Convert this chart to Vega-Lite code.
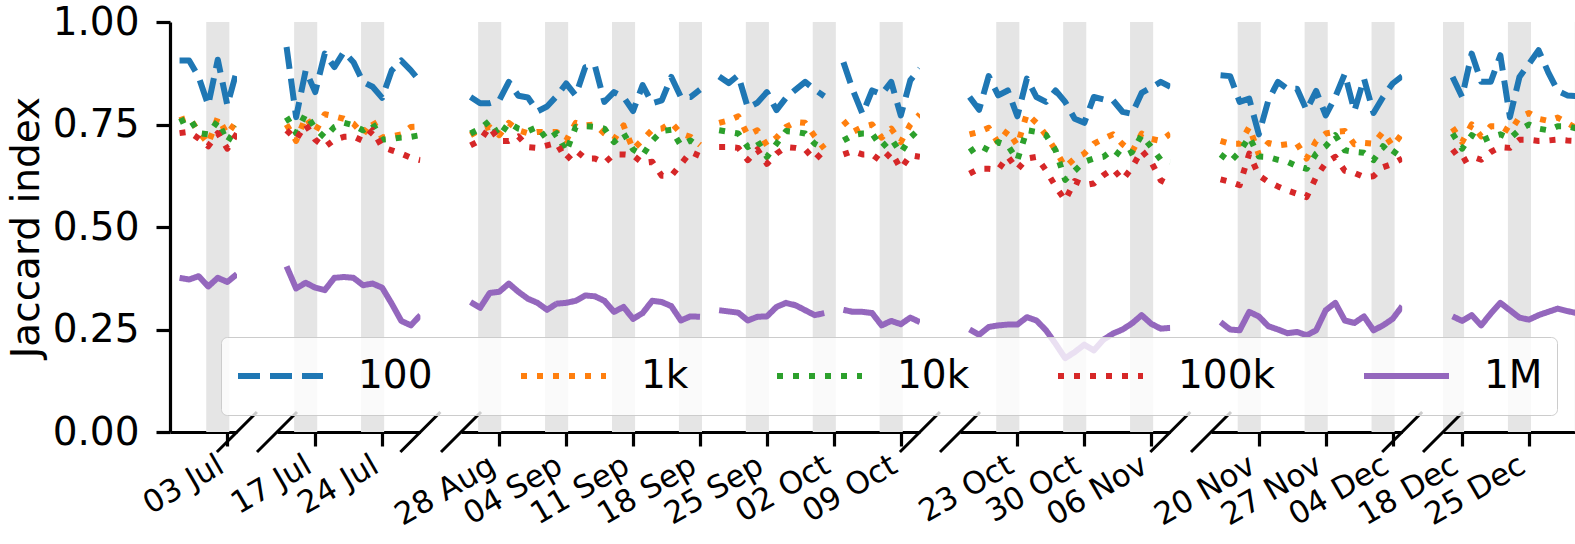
{
  "$schema": "https://vega.github.io/schema/vega-lite/v6.json",
  "background": "white",
  "padding": {"left": 7, "top": 3, "right": 0, "bottom": 0},
  "bounds": "flush",
  "spacing": 40,
  "config": {
    "font": "DejaVu Sans",
    "view": {"stroke": null},
    "axis": {"grid": false, "domainColor": "black", "domainWidth": 3.2, "tickColor": "black", "tickWidth": 3.2, "tickSize": 14, "labelColor": "black", "titleColor": "black", "labelFont": "DejaVu Sans", "titleFont": "DejaVu Sans"}
  },
  "datasets": {
    "main": [
      {"d":"2017-06-28","p":1,"100":0.906,"1k":0.760,"10k":0.756,"100k":0.729,"1M":0.376},
      {"d":"2017-06-29","p":1,"100":0.906,"1k":0.768,"10k":0.767,"100k":0.732,"1M":0.372},
      {"d":"2017-06-30","p":1,"100":0.866,"1k":0.732,"10k":0.729,"100k":0.716,"1M":0.380},
      {"d":"2017-07-01","p":1,"100":0.797,"1k":0.703,"10k":0.726,"100k":0.697,"1M":0.355},
      {"d":"2017-07-02","p":1,"100":0.908,"1k":0.767,"10k":0.759,"100k":0.729,"1M":0.376},
      {"d":"2017-07-03","p":1,"100":0.797,"1k":0.726,"10k":0.707,"100k":0.691,"1M":0.366},
      {"d":"2017-07-04","p":1,"100":0.882,"1k":0.760,"10k":0.744,"100k":0.728,"1M":0.385},
      {"d":"2017-07-14","p":2,"100":0.939,"1k":0.750,"10k":0.768,"100k":0.736,"1M":0.404},
      {"d":"2017-07-15","p":2,"100":0.768,"1k":0.710,"10k":0.729,"100k":0.713,"1M":0.350},
      {"d":"2017-07-16","p":2,"100":0.882,"1k":0.768,"10k":0.776,"100k":0.750,"1M":0.364},
      {"d":"2017-07-17","p":2,"100":0.829,"1k":0.732,"10k":0.740,"100k":0.713,"1M":0.352},
      {"d":"2017-07-18","p":2,"100":0.923,"1k":0.775,"10k":0.718,"100k":0.695,"1M":0.346},
      {"d":"2017-07-19","p":2,"100":0.890,"1k":0.770,"10k":0.744,"100k":0.713,"1M":0.376},
      {"d":"2017-07-20","p":2,"100":0.927,"1k":0.764,"10k":0.754,"100k":0.720,"1M":0.378},
      {"d":"2017-07-21","p":2,"100":0.902,"1k":0.752,"10k":0.748,"100k":0.721,"1M":0.376},
      {"d":"2017-07-22","p":2,"100":0.854,"1k":0.726,"10k":0.736,"100k":0.710,"1M":0.358},
      {"d":"2017-07-23","p":2,"100":0.842,"1k":0.759,"10k":0.752,"100k":0.736,"1M":0.362},
      {"d":"2017-07-24","p":2,"100":0.815,"1k":0.718,"10k":0.713,"100k":0.695,"1M":0.352},
      {"d":"2017-07-25","p":2,"100":0.882,"1k":0.721,"10k":0.715,"100k":0.687,"1M":0.313},
      {"d":"2017-07-26","p":2,"100":0.906,"1k":0.726,"10k":0.718,"100k":0.679,"1M":0.271},
      {"d":"2017-07-27","p":2,"100":0.882,"1k":0.744,"10k":0.720,"100k":0.669,"1M":0.260},
      {"d":"2017-07-28","p":2,"100":0.854,"1k":0.745,"10k":0.724,"100k":0.663,"1M":0.285},
      {"d":"2017-08-25","p":3,"100":0.817,"1k":0.724,"10k":0.728,"100k":0.699,"1M":0.317},
      {"d":"2017-08-26","p":3,"100":0.802,"1k":0.737,"10k":0.740,"100k":0.711,"1M":0.303},
      {"d":"2017-08-27","p":3,"100":0.802,"1k":0.744,"10k":0.759,"100k":0.744,"1M":0.339},
      {"d":"2017-08-28","p":3,"100":0.809,"1k":0.724,"10k":0.721,"100k":0.710,"1M":0.342},
      {"d":"2017-08-29","p":3,"100":0.854,"1k":0.754,"10k":0.754,"100k":0.710,"1M":0.362},
      {"d":"2017-08-30","p":3,"100":0.820,"1k":0.736,"10k":0.740,"100k":0.721,"1M":0.342},
      {"d":"2017-08-31","p":3,"100":0.816,"1k":0.729,"10k":0.734,"100k":0.695,"1M":0.325},
      {"d":"2017-09-01","p":3,"100":0.782,"1k":0.732,"10k":0.744,"100k":0.693,"1M":0.315},
      {"d":"2017-09-02","p":3,"100":0.794,"1k":0.732,"10k":0.713,"100k":0.699,"1M":0.298},
      {"d":"2017-09-03","p":3,"100":0.819,"1k":0.732,"10k":0.729,"100k":0.705,"1M":0.313},
      {"d":"2017-09-04","p":3,"100":0.850,"1k":0.711,"10k":0.683,"100k":0.664,"1M":0.315},
      {"d":"2017-09-05","p":3,"100":0.821,"1k":0.754,"10k":0.744,"100k":0.687,"1M":0.320},
      {"d":"2017-09-06","p":3,"100":0.890,"1k":0.748,"10k":0.746,"100k":0.667,"1M":0.333},
      {"d":"2017-09-07","p":3,"100":0.894,"1k":0.750,"10k":0.744,"100k":0.667,"1M":0.331},
      {"d":"2017-09-08","p":3,"100":0.805,"1k":0.728,"10k":0.740,"100k":0.656,"1M":0.320},
      {"d":"2017-09-09","p":3,"100":0.829,"1k":0.713,"10k":0.707,"100k":0.677,"1M":0.293},
      {"d":"2017-09-10","p":3,"100":0.817,"1k":0.748,"10k":0.729,"100k":0.677,"1M":0.305},
      {"d":"2017-09-11","p":3,"100":0.783,"1k":0.689,"10k":0.689,"100k":0.675,"1M":0.276},
      {"d":"2017-09-12","p":3,"100":0.846,"1k":0.713,"10k":0.675,"100k":0.656,"1M":0.290},
      {"d":"2017-09-13","p":3,"100":0.802,"1k":0.737,"10k":0.710,"100k":0.659,"1M":0.320},
      {"d":"2017-09-14","p":3,"100":0.809,"1k":0.740,"10k":0.734,"100k":0.625,"1M":0.317},
      {"d":"2017-09-15","p":3,"100":0.866,"1k":0.754,"10k":0.737,"100k":0.625,"1M":0.307},
      {"d":"2017-09-16","p":3,"100":0.817,"1k":0.728,"10k":0.699,"100k":0.653,"1M":0.272},
      {"d":"2017-09-17","p":3,"100":0.817,"1k":0.720,"10k":0.711,"100k":0.683,"1M":0.282},
      {"d":"2017-09-18","p":3,"100":0.835,"1k":0.700,"10k":0.695,"100k":0.673,"1M":0.281},
      {"d":"2017-09-19","p":3,"100":null,"1k":null,"10k":null,"100k":null,"1M":null},
      {"d":"2017-09-20","p":3,"100":0.867,"1k":0.754,"10k":0.736,"100k":0.695,"1M":0.297},
      {"d":"2017-09-21","p":3,"100":0.851,"1k":0.760,"10k":0.732,"100k":0.695,"1M":0.294},
      {"d":"2017-09-22","p":3,"100":0.870,"1k":0.770,"10k":0.728,"100k":0.693,"1M":0.291},
      {"d":"2017-09-23","p":3,"100":0.791,"1k":0.724,"10k":0.695,"100k":0.663,"1M":0.272},
      {"d":"2017-09-24","p":3,"100":0.803,"1k":0.736,"10k":0.710,"100k":0.689,"1M":0.281},
      {"d":"2017-09-25","p":3,"100":0.829,"1k":0.699,"10k":0.671,"100k":0.654,"1M":0.282},
      {"d":"2017-09-26","p":3,"100":0.785,"1k":0.718,"10k":0.703,"100k":0.679,"1M":0.305},
      {"d":"2017-09-27","p":3,"100":0.815,"1k":0.744,"10k":0.734,"100k":0.695,"1M":0.315},
      {"d":"2017-09-28","p":3,"100":0.835,"1k":0.756,"10k":0.732,"100k":0.693,"1M":0.309},
      {"d":"2017-09-29","p":3,"100":0.854,"1k":0.754,"10k":0.728,"100k":0.689,"1M":0.297},
      {"d":"2017-09-30","p":3,"100":0.835,"1k":0.721,"10k":0.703,"100k":0.663,"1M":0.285},
      {"d":"2017-10-01","p":3,"100":0.819,"1k":0.691,"10k":0.691,"100k":0.687,"1M":0.290},
      {"d":"2017-10-02","p":3,"100":null,"1k":null,"10k":null,"100k":null,"1M":null},
      {"d":"2017-10-03","p":3,"100":0.902,"1k":0.759,"10k":0.711,"100k":0.677,"1M":0.298},
      {"d":"2017-10-04","p":3,"100":0.833,"1k":0.732,"10k":0.724,"100k":0.685,"1M":0.293},
      {"d":"2017-10-05","p":3,"100":0.776,"1k":0.744,"10k":0.728,"100k":0.677,"1M":0.293},
      {"d":"2017-10-06","p":3,"100":0.833,"1k":0.750,"10k":0.728,"100k":0.677,"1M":0.290},
      {"d":"2017-10-07","p":3,"100":0.824,"1k":0.718,"10k":0.694,"100k":0.659,"1M":0.260},
      {"d":"2017-10-08","p":3,"100":0.854,"1k":0.740,"10k":0.715,"100k":0.683,"1M":0.271},
      {"d":"2017-10-09","p":3,"100":0.772,"1k":0.707,"10k":0.681,"100k":0.642,"1M":0.263},
      {"d":"2017-10-10","p":3,"100":0.858,"1k":0.750,"10k":0.718,"100k":0.675,"1M":0.279},
      {"d":"2017-10-11","p":3,"100":0.886,"1k":0.775,"10k":0.740,"100k":0.671,"1M":0.268},
      {"d":"2017-10-18","p":4,"100":0.817,"1k":0.726,"10k":0.683,"100k":0.630,"1M":0.250},
      {"d":"2017-10-19","p":4,"100":0.786,"1k":0.732,"10k":0.699,"100k":0.642,"1M":0.237},
      {"d":"2017-10-20","p":4,"100":0.868,"1k":0.742,"10k":0.687,"100k":0.642,"1M":0.256},
      {"d":"2017-10-21","p":4,"100":0.821,"1k":0.705,"10k":0.707,"100k":0.640,"1M":0.260},
      {"d":"2017-10-22","p":4,"100":0.833,"1k":0.736,"10k":0.699,"100k":0.672,"1M":0.262},
      {"d":"2017-10-23","p":4,"100":0.770,"1k":0.699,"10k":0.663,"100k":0.640,"1M":0.262},
      {"d":"2017-10-24","p":4,"100":0.862,"1k":0.776,"10k":0.736,"100k":0.667,"1M":0.280},
      {"d":"2017-10-25","p":4,"100":0.817,"1k":0.754,"10k":0.732,"100k":0.671,"1M":0.272},
      {"d":"2017-10-26","p":4,"100":0.805,"1k":0.724,"10k":0.724,"100k":0.638,"1M":0.248},
      {"d":"2017-10-27","p":4,"100":0.833,"1k":0.687,"10k":0.687,"100k":0.599,"1M":0.215},
      {"d":"2017-10-28","p":4,"100":0.805,"1k":0.646,"10k":0.615,"100k":0.565,"1M":0.180},
      {"d":"2017-10-29","p":4,"100":0.764,"1k":0.667,"10k":0.637,"100k":0.612,"1M":0.195},
      {"d":"2017-10-30","p":4,"100":0.754,"1k":0.679,"10k":0.659,"100k":0.602,"1M":0.213},
      {"d":"2017-10-31","p":4,"100":0.817,"1k":0.703,"10k":0.667,"100k":0.606,"1M":0.199},
      {"d":"2017-11-01","p":4,"100":0.811,"1k":0.715,"10k":0.671,"100k":0.626,"1M":0.225},
      {"d":"2017-11-02","p":4,"100":0.809,"1k":0.726,"10k":0.689,"100k":0.642,"1M":0.240},
      {"d":"2017-11-03","p":4,"100":0.781,"1k":0.702,"10k":0.671,"100k":0.615,"1M":0.250},
      {"d":"2017-11-04","p":4,"100":0.776,"1k":0.683,"10k":0.683,"100k":0.645,"1M":0.265},
      {"d":"2017-11-05","p":4,"100":0.827,"1k":0.728,"10k":0.724,"100k":0.687,"1M":0.285},
      {"d":"2017-11-06","p":4,"100":0.840,"1k":0.715,"10k":0.695,"100k":0.659,"1M":0.264},
      {"d":"2017-11-07","p":4,"100":0.854,"1k":0.710,"10k":0.664,"100k":0.614,"1M":0.252},
      {"d":"2017-11-08","p":4,"100":0.842,"1k":0.728,"10k":0.659,"100k":0.602,"1M":0.254},
      {"d":"2017-11-16","p":5,"100":0.870,"1k":0.710,"10k":0.677,"100k":0.616,"1M":0.268},
      {"d":"2017-11-17","p":5,"100":0.868,"1k":0.703,"10k":0.659,"100k":0.610,"1M":0.250},
      {"d":"2017-11-18","p":5,"100":0.805,"1k":0.703,"10k":0.683,"100k":0.602,"1M":0.248},
      {"d":"2017-11-19","p":5,"100":0.813,"1k":0.744,"10k":0.720,"100k":0.679,"1M":0.293},
      {"d":"2017-11-20","p":5,"100":0.726,"1k":0.677,"10k":0.672,"100k":0.626,"1M":0.282},
      {"d":"2017-11-21","p":5,"100":0.809,"1k":0.705,"10k":0.671,"100k":0.610,"1M":0.258},
      {"d":"2017-11-22","p":5,"100":0.854,"1k":0.699,"10k":0.664,"100k":0.599,"1M":0.250},
      {"d":"2017-11-23","p":5,"100":0.837,"1k":0.702,"10k":0.659,"100k":0.589,"1M":0.241},
      {"d":"2017-11-24","p":5,"100":0.837,"1k":0.703,"10k":0.648,"100k":0.581,"1M":0.244},
      {"d":"2017-11-25","p":5,"100":0.785,"1k":0.667,"10k":0.642,"100k":0.573,"1M":0.236},
      {"d":"2017-11-26","p":5,"100":0.832,"1k":0.710,"10k":0.679,"100k":0.622,"1M":0.248},
      {"d":"2017-11-27","p":5,"100":0.772,"1k":0.728,"10k":0.697,"100k":0.656,"1M":0.297},
      {"d":"2017-11-28","p":5,"100":0.817,"1k":0.732,"10k":0.724,"100k":0.671,"1M":0.315},
      {"d":"2017-11-29","p":5,"100":0.874,"1k":0.734,"10k":0.687,"100k":0.637,"1M":0.272},
      {"d":"2017-11-30","p":5,"100":0.783,"1k":0.702,"10k":0.683,"100k":0.632,"1M":0.266},
      {"d":"2017-12-01","p":5,"100":0.862,"1k":0.705,"10k":0.681,"100k":0.622,"1M":0.282},
      {"d":"2017-12-02","p":5,"100":0.778,"1k":0.703,"10k":0.663,"100k":0.624,"1M":0.248},
      {"d":"2017-12-03","p":5,"100":0.817,"1k":0.732,"10k":0.697,"100k":0.646,"1M":0.260},
      {"d":"2017-12-04","p":5,"100":0.850,"1k":0.697,"10k":0.675,"100k":0.654,"1M":0.276},
      {"d":"2017-12-05","p":5,"100":0.868,"1k":0.728,"10k":0.707,"100k":0.667,"1M":0.307},
      {"d":"2017-12-17","p":6,"100":0.866,"1k":0.742,"10k":0.728,"100k":0.689,"1M":0.282},
      {"d":"2017-12-18","p":6,"100":0.817,"1k":0.707,"10k":0.691,"100k":0.659,"1M":0.271},
      {"d":"2017-12-19","p":6,"100":0.923,"1k":0.750,"10k":0.724,"100k":0.672,"1M":0.285},
      {"d":"2017-12-20","p":6,"100":0.854,"1k":0.721,"10k":0.710,"100k":0.664,"1M":0.260},
      {"d":"2017-12-21","p":6,"100":0.854,"1k":0.746,"10k":0.720,"100k":0.683,"1M":0.289},
      {"d":"2017-12-22","p":6,"100":0.919,"1k":0.746,"10k":0.726,"100k":0.695,"1M":0.315},
      {"d":"2017-12-23","p":6,"100":0.768,"1k":0.732,"10k":0.716,"100k":0.693,"1M":0.297},
      {"d":"2017-12-24","p":6,"100":0.866,"1k":0.768,"10k":0.737,"100k":0.713,"1M":0.279},
      {"d":"2017-12-25","p":6,"100":0.898,"1k":0.778,"10k":0.750,"100k":0.713,"1M":0.274},
      {"d":"2017-12-26","p":6,"100":0.931,"1k":0.764,"10k":0.740,"100k":0.710,"1M":0.285},
      {"d":"2017-12-27","p":6,"100":0.878,"1k":0.759,"10k":0.736,"100k":0.711,"1M":0.293},
      {"d":"2017-12-28","p":6,"100":0.832,"1k":0.767,"10k":0.746,"100k":0.713,"1M":0.301},
      {"d":"2017-12-29","p":6,"100":0.821,"1k":0.754,"10k":0.746,"100k":0.711,"1M":0.295},
      {"d":"2017-12-30","p":6,"100":0.819,"1k":0.740,"10k":0.740,"100k":0.710,"1M":0.290}
    ],
    "wk": [
      {"p":1,"a":"2017-06-30T19:00:00Z","b":"2017-07-03T05:00:00Z"},
      {"p":2,"a":"2017-07-14T19:00:00Z","b":"2017-07-17T05:00:00Z"},
      {"p":2,"a":"2017-07-21T19:00:00Z","b":"2017-07-24T05:00:00Z"},
      {"p":3,"a":"2017-08-25T19:00:00Z","b":"2017-08-28T05:00:00Z"},
      {"p":3,"a":"2017-09-01T19:00:00Z","b":"2017-09-04T05:00:00Z"},
      {"p":3,"a":"2017-09-08T19:00:00Z","b":"2017-09-11T05:00:00Z"},
      {"p":3,"a":"2017-09-15T19:00:00Z","b":"2017-09-18T05:00:00Z"},
      {"p":3,"a":"2017-09-22T19:00:00Z","b":"2017-09-25T05:00:00Z"},
      {"p":3,"a":"2017-09-29T19:00:00Z","b":"2017-10-02T05:00:00Z"},
      {"p":3,"a":"2017-10-06T19:00:00Z","b":"2017-10-09T05:00:00Z"},
      {"p":4,"a":"2017-10-20T19:00:00Z","b":"2017-10-23T05:00:00Z"},
      {"p":4,"a":"2017-10-27T19:00:00Z","b":"2017-10-30T05:00:00Z"},
      {"p":4,"a":"2017-11-03T19:00:00Z","b":"2017-11-06T05:00:00Z"},
      {"p":5,"a":"2017-11-17T19:00:00Z","b":"2017-11-20T05:00:00Z"},
      {"p":5,"a":"2017-11-24T19:00:00Z","b":"2017-11-27T05:00:00Z"},
      {"p":5,"a":"2017-12-01T19:00:00Z","b":"2017-12-04T05:00:00Z"},
      {"p":6,"a":"2017-12-15T19:00:00Z","b":"2017-12-18T05:00:00Z"},
      {"p":6,"a":"2017-12-22T19:00:00Z","b":"2017-12-25T05:00:00Z"},
      {"p":6,"a":"2017-12-29T19:00:00Z","b":"2018-01-01T05:00:00Z"}
    ],
    "br": [
      {"p":1,"t":"2017-07-04"},
      {"p":2,"t":"2017-07-13"},{"p":2,"t":"2017-07-28"},
      {"p":3,"t":"2017-08-24"},{"p":3,"t":"2017-10-11"},
      {"p":4,"t":"2017-10-17"},{"p":4,"t":"2017-11-08"},
      {"p":5,"t":"2017-11-15"},{"p":5,"t":"2017-12-05"},
      {"p":6,"t":"2017-12-16"}
    ]
  },
  "hconcat": [
    {
      "width": 66.9, "height": 410,
      "layer": [
        {"data": {"name": "wk"}, "transform": [{"filter": "datum.p == 1"}],
         "mark": {"type": "rect", "color": "#e5e5e5", "clip": true},
         "encoding": {
           "x": {"field": "a", "type": "temporal", "scale": {"type": "utc", "domain": [{"year":2017,"month":6,"date":27,"utc":true},{"year":2017,"month":7,"date":4,"utc":true}]},
                 "axis": {"title": null, "values": [{"year":2017,"month":7,"date":3,"utc":true}], "format": "%d %b", "labelAngle": -30, "labelAlign": "right", "labelBaseline": "top", "labelFontSize": 31, "labelPadding": 4, "labelOffset": -14, "labelOverlap": false, "labelFlush": false}},
           "x2": {"field": "b"}}},
        {"data": {"name": "main"}, "transform": [{"filter": "datum.p == 1"}, {"fold": ["100","1k","10k","100k","1M"], "as": ["s","v"]}],
         "mark": {"type": "line", "strokeWidth": 6, "strokeJoin": "round", "clip": true},
         "encoding": {
           "x": {"field": "d", "type": "temporal", "scale": {"type": "utc", "domain": [{"year":2017,"month":6,"date":27,"utc":true},{"year":2017,"month":7,"date":4,"utc":true}]}},
           "y": {"field": "v", "type": "quantitative", "scale": {"domain": [0,1], "nice": false},
                 "axis": {"title": "Jaccard index", "titleFontSize": 39, "titleFontWeight": "normal", "titlePadding": 6, "labelFontSize": 39, "labelPadding": 17, "values": [0,0.25,0.5,0.75,1], "format": ".2f"}},
           "color": {"field": "s", "type": "nominal", "scale": {"domain": ["100","1k","10k","100k","1M"], "range": ["#1f77b4","#ff7f0e","#2ca02c","#d62728","#9467bd"]},
                     "legend": {"title": null, "orient": "none", "legendX": 51, "legendY": 315, "direction": "horizontal", "symbolType": "stroke", "symbolSize": 7225, "symbolStrokeWidth": 6, "clipHeight": 50, "labelFontSize": 39, "labelColor": "black", "labelOffset": 32, "columnPadding": 85, "padding": 14, "fillColor": "rgba(255,255,255,0.8)", "strokeColor": "#cccccc", "cornerRadius": 6, "labelLimit": 0}},
           "strokeDash": {"field": "s", "type": "nominal", "scale": {"domain": ["100","1k","10k","100k","1M"], "range": [[22,10],[6,10],[6,10],[6,10],[1,0]]},
                     "legend": {"title": null, "orient": "none", "legendX": 51, "legendY": 315, "direction": "horizontal", "symbolType": "stroke", "symbolSize": 7225, "symbolStrokeWidth": 6, "clipHeight": 50, "labelFontSize": 39, "labelColor": "black", "labelOffset": 32, "columnPadding": 85, "padding": 14, "fillColor": "rgba(255,255,255,0.8)", "strokeColor": "#cccccc", "cornerRadius": 6, "labelLimit": 0}}}},
        {"data": {"name": "br"}, "transform": [{"filter": "datum.p == 1"}],
         "mark": {"type": "rule", "color": "black", "strokeWidth": 3, "xOffset": -20, "x2Offset": 20, "yOffset": 20, "y2Offset": -20},
         "encoding": {"x": {"field": "t", "type": "temporal", "scale": {"type": "utc", "domain": [{"year":2017,"month":6,"date":27,"utc":true},{"year":2017,"month":7,"date":4,"utc":true}]}}, "x2": {"field": "t"}, "y": {"datum": 0}, "y2": {"datum": 0}}}
      ]
    },
    {
      "width": 143.4, "height": 410,
      "layer": [
        {"data": {"name": "wk"}, "transform": [{"filter": "datum.p == 2"}],
         "mark": {"type": "rect", "color": "#e5e5e5", "clip": true},
         "encoding": {
           "x": {"field": "a", "type": "temporal", "scale": {"type": "utc", "domain": [{"year":2017,"month":7,"date":13,"utc":true},{"year":2017,"month":7,"date":28,"utc":true}]},
                 "axis": {"title": null, "values": [{"year":2017,"month":7,"date":17,"utc":true},{"year":2017,"month":7,"date":24,"utc":true}], "format": "%d %b", "labelAngle": -30, "labelAlign": "right", "labelBaseline": "top", "labelFontSize": 31, "labelPadding": 4, "labelOffset": -14, "labelOverlap": false, "labelFlush": false}},
           "x2": {"field": "b"}}},
        {"data": {"name": "main"}, "transform": [{"filter": "datum.p == 2"}, {"fold": ["100","1k","10k","100k","1M"], "as": ["s","v"]}],
         "mark": {"type": "line", "strokeWidth": 6, "strokeJoin": "round", "clip": true},
         "encoding": {
           "x": {"field": "d", "type": "temporal", "scale": {"type": "utc", "domain": [{"year":2017,"month":7,"date":13,"utc":true},{"year":2017,"month":7,"date":28,"utc":true}]}},
           "y": {"field": "v", "type": "quantitative", "scale": {"domain": [0,1], "nice": false}, "axis": null},
           "color": {"field": "s", "type": "nominal", "scale": {"domain": ["100","1k","10k","100k","1M"], "range": ["#1f77b4","#ff7f0e","#2ca02c","#d62728","#9467bd"]},
                     "legend": {"title": null, "orient": "none", "legendX": 51, "legendY": 315, "direction": "horizontal", "symbolType": "stroke", "symbolSize": 7225, "symbolStrokeWidth": 6, "clipHeight": 50, "labelFontSize": 39, "labelColor": "black", "labelOffset": 32, "columnPadding": 85, "padding": 14, "fillColor": "rgba(255,255,255,0.8)", "strokeColor": "#cccccc", "cornerRadius": 6, "labelLimit": 0}},
           "strokeDash": {"field": "s", "type": "nominal", "scale": {"domain": ["100","1k","10k","100k","1M"], "range": [[22,10],[6,10],[6,10],[6,10],[1,0]]},
                     "legend": {"title": null, "orient": "none", "legendX": 51, "legendY": 315, "direction": "horizontal", "symbolType": "stroke", "symbolSize": 7225, "symbolStrokeWidth": 6, "clipHeight": 50, "labelFontSize": 39, "labelColor": "black", "labelOffset": 32, "columnPadding": 85, "padding": 14, "fillColor": "rgba(255,255,255,0.8)", "strokeColor": "#cccccc", "cornerRadius": 6, "labelLimit": 0}}}},
        {"data": {"name": "br"}, "transform": [{"filter": "datum.p == 2"}],
         "mark": {"type": "rule", "color": "black", "strokeWidth": 3, "xOffset": -20, "x2Offset": 20, "yOffset": 20, "y2Offset": -20},
         "encoding": {"x": {"field": "t", "type": "temporal", "scale": {"type": "utc", "domain": [{"year":2017,"month":7,"date":13,"utc":true},{"year":2017,"month":7,"date":28,"utc":true}]}}, "x2": {"field": "t"}, "y": {"datum": 0, "axis": null}, "y2": {"datum": 0}}}
      ]
    },
    {
      "width": 458.9, "height": 410,
      "layer": [
        {"data": {"name": "wk"}, "transform": [{"filter": "datum.p == 3"}],
         "mark": {"type": "rect", "color": "#e5e5e5", "clip": true},
         "encoding": {
           "x": {"field": "a", "type": "temporal", "scale": {"type": "utc", "domain": [{"year":2017,"month":8,"date":24,"utc":true},{"year":2017,"month":10,"date":11,"utc":true}]},
                 "axis": {"title": null, "values": [{"year":2017,"month":8,"date":28,"utc":true},{"year":2017,"month":9,"date":4,"utc":true},{"year":2017,"month":9,"date":11,"utc":true},{"year":2017,"month":9,"date":18,"utc":true},{"year":2017,"month":9,"date":25,"utc":true},{"year":2017,"month":10,"date":2,"utc":true},{"year":2017,"month":10,"date":9,"utc":true}], "format": "%d %b", "labelAngle": -30, "labelAlign": "right", "labelBaseline": "top", "labelFontSize": 31, "labelPadding": 4, "labelOffset": -14, "labelOverlap": false, "labelFlush": false}},
           "x2": {"field": "b"}}},
        {"data": {"name": "main"}, "transform": [{"filter": "datum.p == 3"}, {"fold": ["100","1k","10k","100k","1M"], "as": ["s","v"]}],
         "mark": {"type": "line", "strokeWidth": 6, "strokeJoin": "round", "clip": true},
         "encoding": {
           "x": {"field": "d", "type": "temporal", "scale": {"type": "utc", "domain": [{"year":2017,"month":8,"date":24,"utc":true},{"year":2017,"month":10,"date":11,"utc":true}]}},
           "y": {"field": "v", "type": "quantitative", "scale": {"domain": [0,1], "nice": false}, "axis": null},
           "color": {"field": "s", "type": "nominal", "scale": {"domain": ["100","1k","10k","100k","1M"], "range": ["#1f77b4","#ff7f0e","#2ca02c","#d62728","#9467bd"]},
                     "legend": {"title": null, "orient": "none", "legendX": 51, "legendY": 315, "direction": "horizontal", "symbolType": "stroke", "symbolSize": 7225, "symbolStrokeWidth": 6, "clipHeight": 50, "labelFontSize": 39, "labelColor": "black", "labelOffset": 32, "columnPadding": 85, "padding": 14, "fillColor": "rgba(255,255,255,0.8)", "strokeColor": "#cccccc", "cornerRadius": 6, "labelLimit": 0}},
           "strokeDash": {"field": "s", "type": "nominal", "scale": {"domain": ["100","1k","10k","100k","1M"], "range": [[22,10],[6,10],[6,10],[6,10],[1,0]]},
                     "legend": {"title": null, "orient": "none", "legendX": 51, "legendY": 315, "direction": "horizontal", "symbolType": "stroke", "symbolSize": 7225, "symbolStrokeWidth": 6, "clipHeight": 50, "labelFontSize": 39, "labelColor": "black", "labelOffset": 32, "columnPadding": 85, "padding": 14, "fillColor": "rgba(255,255,255,0.8)", "strokeColor": "#cccccc", "cornerRadius": 6, "labelLimit": 0}}}},
        {"data": {"name": "br"}, "transform": [{"filter": "datum.p == 3"}],
         "mark": {"type": "rule", "color": "black", "strokeWidth": 3, "xOffset": -20, "x2Offset": 20, "yOffset": 20, "y2Offset": -20},
         "encoding": {"x": {"field": "t", "type": "temporal", "scale": {"type": "utc", "domain": [{"year":2017,"month":8,"date":24,"utc":true},{"year":2017,"month":10,"date":11,"utc":true}]}}, "x2": {"field": "t"}, "y": {"datum": 0, "axis": null}, "y2": {"datum": 0}}}
      ]
    },
    {
      "width": 210.3, "height": 410,
      "layer": [
        {"data": {"name": "wk"}, "transform": [{"filter": "datum.p == 4"}],
         "mark": {"type": "rect", "color": "#e5e5e5", "clip": true},
         "encoding": {
           "x": {"field": "a", "type": "temporal", "scale": {"type": "utc", "domain": [{"year":2017,"month":10,"date":17,"utc":true},{"year":2017,"month":11,"date":8,"utc":true}]},
                 "axis": {"title": null, "values": [{"year":2017,"month":10,"date":23,"utc":true},{"year":2017,"month":10,"date":30,"utc":true},{"year":2017,"month":11,"date":6,"utc":true}], "format": "%d %b", "labelAngle": -30, "labelAlign": "right", "labelBaseline": "top", "labelFontSize": 31, "labelPadding": 4, "labelOffset": -14, "labelOverlap": false, "labelFlush": false}},
           "x2": {"field": "b"}}},
        {"data": {"name": "main"}, "transform": [{"filter": "datum.p == 4"}, {"fold": ["100","1k","10k","100k","1M"], "as": ["s","v"]}],
         "mark": {"type": "line", "strokeWidth": 6, "strokeJoin": "round", "clip": true},
         "encoding": {
           "x": {"field": "d", "type": "temporal", "scale": {"type": "utc", "domain": [{"year":2017,"month":10,"date":17,"utc":true},{"year":2017,"month":11,"date":8,"utc":true}]}},
           "y": {"field": "v", "type": "quantitative", "scale": {"domain": [0,1], "nice": false}, "axis": null},
           "color": {"field": "s", "type": "nominal", "scale": {"domain": ["100","1k","10k","100k","1M"], "range": ["#1f77b4","#ff7f0e","#2ca02c","#d62728","#9467bd"]},
                     "legend": {"title": null, "orient": "none", "legendX": 51, "legendY": 315, "direction": "horizontal", "symbolType": "stroke", "symbolSize": 7225, "symbolStrokeWidth": 6, "clipHeight": 50, "labelFontSize": 39, "labelColor": "black", "labelOffset": 32, "columnPadding": 85, "padding": 14, "fillColor": "rgba(255,255,255,0.8)", "strokeColor": "#cccccc", "cornerRadius": 6, "labelLimit": 0}},
           "strokeDash": {"field": "s", "type": "nominal", "scale": {"domain": ["100","1k","10k","100k","1M"], "range": [[22,10],[6,10],[6,10],[6,10],[1,0]]},
                     "legend": {"title": null, "orient": "none", "legendX": 51, "legendY": 315, "direction": "horizontal", "symbolType": "stroke", "symbolSize": 7225, "symbolStrokeWidth": 6, "clipHeight": 50, "labelFontSize": 39, "labelColor": "black", "labelOffset": 32, "columnPadding": 85, "padding": 14, "fillColor": "rgba(255,255,255,0.8)", "strokeColor": "#cccccc", "cornerRadius": 6, "labelLimit": 0}}}},
        {"data": {"name": "br"}, "transform": [{"filter": "datum.p == 4"}],
         "mark": {"type": "rule", "color": "black", "strokeWidth": 3, "xOffset": -20, "x2Offset": 20, "yOffset": 20, "y2Offset": -20},
         "encoding": {"x": {"field": "t", "type": "temporal", "scale": {"type": "utc", "domain": [{"year":2017,"month":10,"date":17,"utc":true},{"year":2017,"month":11,"date":8,"utc":true}]}}, "x2": {"field": "t"}, "y": {"datum": 0, "axis": null}, "y2": {"datum": 0}}}
      ]
    },
    {
      "width": 191.2, "height": 410,
      "layer": [
        {"data": {"name": "wk"}, "transform": [{"filter": "datum.p == 5"}],
         "mark": {"type": "rect", "color": "#e5e5e5", "clip": true},
         "encoding": {
           "x": {"field": "a", "type": "temporal", "scale": {"type": "utc", "domain": [{"year":2017,"month":11,"date":15,"utc":true},{"year":2017,"month":12,"date":5,"utc":true}]},
                 "axis": {"title": null, "values": [{"year":2017,"month":11,"date":20,"utc":true},{"year":2017,"month":11,"date":27,"utc":true},{"year":2017,"month":12,"date":4,"utc":true}], "format": "%d %b", "labelAngle": -30, "labelAlign": "right", "labelBaseline": "top", "labelFontSize": 31, "labelPadding": 4, "labelOffset": -14, "labelOverlap": false, "labelFlush": false}},
           "x2": {"field": "b"}}},
        {"data": {"name": "main"}, "transform": [{"filter": "datum.p == 5"}, {"fold": ["100","1k","10k","100k","1M"], "as": ["s","v"]}],
         "mark": {"type": "line", "strokeWidth": 6, "strokeJoin": "round", "clip": true},
         "encoding": {
           "x": {"field": "d", "type": "temporal", "scale": {"type": "utc", "domain": [{"year":2017,"month":11,"date":15,"utc":true},{"year":2017,"month":12,"date":5,"utc":true}]}},
           "y": {"field": "v", "type": "quantitative", "scale": {"domain": [0,1], "nice": false}, "axis": null},
           "color": {"field": "s", "type": "nominal", "scale": {"domain": ["100","1k","10k","100k","1M"], "range": ["#1f77b4","#ff7f0e","#2ca02c","#d62728","#9467bd"]},
                     "legend": {"title": null, "orient": "none", "legendX": 51, "legendY": 315, "direction": "horizontal", "symbolType": "stroke", "symbolSize": 7225, "symbolStrokeWidth": 6, "clipHeight": 50, "labelFontSize": 39, "labelColor": "black", "labelOffset": 32, "columnPadding": 85, "padding": 14, "fillColor": "rgba(255,255,255,0.8)", "strokeColor": "#cccccc", "cornerRadius": 6, "labelLimit": 0}},
           "strokeDash": {"field": "s", "type": "nominal", "scale": {"domain": ["100","1k","10k","100k","1M"], "range": [[22,10],[6,10],[6,10],[6,10],[1,0]]},
                     "legend": {"title": null, "orient": "none", "legendX": 51, "legendY": 315, "direction": "horizontal", "symbolType": "stroke", "symbolSize": 7225, "symbolStrokeWidth": 6, "clipHeight": 50, "labelFontSize": 39, "labelColor": "black", "labelOffset": 32, "columnPadding": 85, "padding": 14, "fillColor": "rgba(255,255,255,0.8)", "strokeColor": "#cccccc", "cornerRadius": 6, "labelLimit": 0}}}},
        {"data": {"name": "br"}, "transform": [{"filter": "datum.p == 5"}],
         "mark": {"type": "rule", "color": "black", "strokeWidth": 3, "xOffset": -20, "x2Offset": 20, "yOffset": 20, "y2Offset": -20},
         "encoding": {"x": {"field": "t", "type": "temporal", "scale": {"type": "utc", "domain": [{"year":2017,"month":11,"date":15,"utc":true},{"year":2017,"month":12,"date":5,"utc":true}]}}, "x2": {"field": "t"}, "y": {"datum": 0, "axis": null}, "y2": {"datum": 0}}}
      ]
    },
    {
      "width": 133.2, "height": 410,
      "layer": [
        {"data": {"name": "wk"}, "transform": [{"filter": "datum.p == 6"}],
         "mark": {"type": "rect", "color": "#e5e5e5", "clip": true},
         "encoding": {
           "x": {"field": "a", "type": "temporal", "scale": {"type": "utc", "domain": [{"year":2017,"month":12,"date":16,"utc":true},{"year":2017,"month":12,"date":29,"hours":22,"minutes":30,"utc":true}]},
                 "axis": {"title": null, "values": [{"year":2017,"month":12,"date":18,"utc":true},{"year":2017,"month":12,"date":25,"utc":true}], "format": "%d %b", "labelAngle": -30, "labelAlign": "right", "labelBaseline": "top", "labelFontSize": 31, "labelPadding": 4, "labelOffset": -14, "labelOverlap": false, "labelFlush": false}},
           "x2": {"field": "b"}}},
        {"data": {"name": "main"}, "transform": [{"filter": "datum.p == 6"}, {"fold": ["100","1k","10k","100k","1M"], "as": ["s","v"]}],
         "mark": {"type": "line", "strokeWidth": 6, "strokeJoin": "round", "clip": true},
         "encoding": {
           "x": {"field": "d", "type": "temporal", "scale": {"type": "utc", "domain": [{"year":2017,"month":12,"date":16,"utc":true},{"year":2017,"month":12,"date":29,"hours":22,"minutes":30,"utc":true}]}},
           "y": {"field": "v", "type": "quantitative", "scale": {"domain": [0,1], "nice": false}, "axis": null},
           "color": {"field": "s", "type": "nominal", "scale": {"domain": ["100","1k","10k","100k","1M"], "range": ["#1f77b4","#ff7f0e","#2ca02c","#d62728","#9467bd"]},
                     "legend": {"title": null, "orient": "none", "legendX": 51, "legendY": 315, "direction": "horizontal", "symbolType": "stroke", "symbolSize": 7225, "symbolStrokeWidth": 6, "clipHeight": 50, "labelFontSize": 39, "labelColor": "black", "labelOffset": 32, "columnPadding": 85, "padding": 14, "fillColor": "rgba(255,255,255,0.8)", "strokeColor": "#cccccc", "cornerRadius": 6, "labelLimit": 0}},
           "strokeDash": {"field": "s", "type": "nominal", "scale": {"domain": ["100","1k","10k","100k","1M"], "range": [[22,10],[6,10],[6,10],[6,10],[1,0]]},
                     "legend": {"title": null, "orient": "none", "legendX": 51, "legendY": 315, "direction": "horizontal", "symbolType": "stroke", "symbolSize": 7225, "symbolStrokeWidth": 6, "clipHeight": 50, "labelFontSize": 39, "labelColor": "black", "labelOffset": 32, "columnPadding": 85, "padding": 14, "fillColor": "rgba(255,255,255,0.8)", "strokeColor": "#cccccc", "cornerRadius": 6, "labelLimit": 0}}}},
        {"data": {"name": "br"}, "transform": [{"filter": "datum.p == 6"}],
         "mark": {"type": "rule", "color": "black", "strokeWidth": 3, "xOffset": -20, "x2Offset": 20, "yOffset": 20, "y2Offset": -20},
         "encoding": {"x": {"field": "t", "type": "temporal", "scale": {"type": "utc", "domain": [{"year":2017,"month":12,"date":16,"utc":true},{"year":2017,"month":12,"date":29,"hours":22,"minutes":30,"utc":true}]}}, "x2": {"field": "t"}, "y": {"datum": 0, "axis": null}, "y2": {"datum": 0}}}
      ]
    }
  ]
}
